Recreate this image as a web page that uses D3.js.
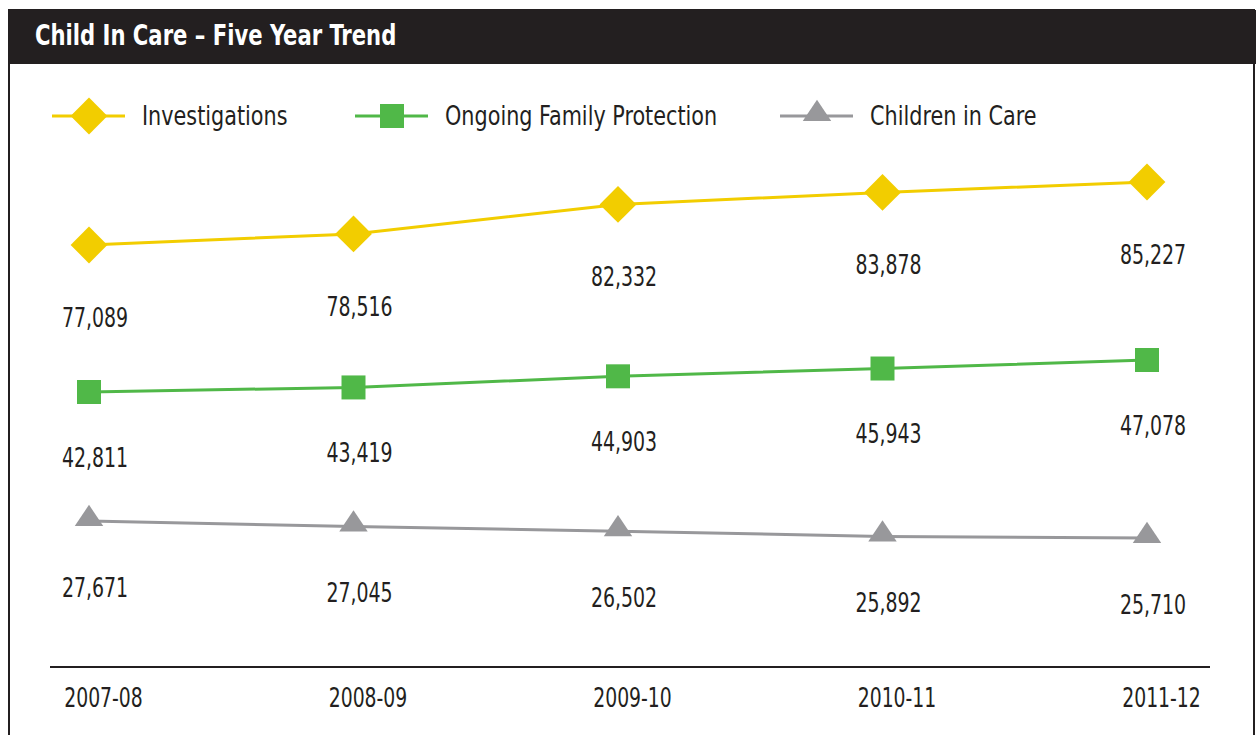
<!DOCTYPE html>
<html><head><meta charset="utf-8">
<script src="https://cdn.jsdelivr.net/npm/d3@7"></script>
<style>
html,body{margin:0;padding:0;background:#fff;}
svg text{font-family:"Liberation Sans Narrow","DejaVu Sans Condensed","Roboto Condensed",Roboto,sans-serif;font-stretch:condensed;fill:#231f20;}
</style></head>
<body><svg id="c" width="1259" height="735"></svg>
<script>
const title = "Child In Care \u2013 Five Year Trend";
const years = ["2007-08","2008-09","2009-10","2010-11","2011-12"];
const seriesNames = ["Investigations","Ongoing Family Protection","Children in Care"];
const investigations = [77089,78516,82332,83878,85227];
const ongoingFamilyProtection = [42811,43419,44903,45943,47078];
const childrenInCare = [27671,27045,26502,25892,25710];

const svg = d3.select("#c");
const ink = "#231f20";
const colors = ["#f2cd00","#50b848","#98989b"];

// frame and title bar
svg.append("rect").attr("x",9).attr("y",10).attr("width",1245).attr("height",740)
  .attr("fill","none").attr("stroke",ink).attr("stroke-width",2);
svg.append("rect").attr("x",8).attr("y",10).attr("width",1248).attr("height",54).attr("fill",ink);
svg.append("text").attr("transform","translate(35,45) scale(0.84,1)").text(title)
  .style("fill","#fff").style("font-weight","bold").style("font-size","28px");

const x = d3.scalePoint().domain(years).range([89,1147]);
// broken vertical axis: each series sits in its own band
const yScales = [
  d3.scaleLinear().domain([77089,85227]).range([245,182]),
  d3.scaleLinear().domain([42811,47078]).range([392,360]),
  d3.scaleLinear().domain([25710,27671]).range([538,521])
];
const labelOffsets = [73,66,67];
const data = [investigations, ongoingFamilyProtection, childrenInCare];
const sizes = [
  d3.symbol().type(d3.symbolSquare).size(26*26),
  d3.symbol().type(d3.symbolSquare).size(24*24),
  d3.symbol().type(d3.symbolTriangle).size(290)
];
const markerTf = [" rotate(45)", "", " scale(1.1,0.95)"];
const markerDy = [0, 0, -2];

data.forEach((vals, i) => {
  const pts = vals.map((v,j)=>({year:years[j], v}));
  const y = yScales[i];
  const g = svg.append("g");
  g.append("path").datum(pts)
    .attr("d", d3.line().x(d=>x(d.year)).y(d=>y(d.v)))
    .attr("fill","none").attr("stroke",colors[i]).attr("stroke-width",3);
  g.selectAll("path.m").data(pts).join("path").attr("class","m")
    .attr("d", sizes[i])
    .attr("transform", d=>`translate(${x(d.year)},${y(d.v) + markerDy[i]})${markerTf[i]}`)
    .attr("fill",colors[i]);
  g.selectAll("text").data(pts).join("text")
    .attr("transform", d=>`translate(${x(d.year)+6},${y(d.v)+labelOffsets[i]}) scale(0.78,1)`)
    .attr("text-anchor","middle").attr("dominant-baseline","central")
    .style("font-size","27px")
    .text(d=>d3.format(",")(d.v));
});

// legend
const legendX = [52,355,780];
seriesNames.forEach((name,i)=>{
  const g = svg.append("g").attr("transform",`translate(${legendX[i]},116)`);
  g.append("line").attr("x1",0).attr("x2",73).attr("stroke",colors[i]).attr("stroke-width",3);
  g.append("path").attr("d",sizes[i]).attr("transform",`translate(37,${markerDy[i]})${markerTf[i]}`).attr("fill",colors[i]);
  g.append("text").attr("transform","translate(90,0) scale(0.855,1)")
    .attr("dominant-baseline","central").style("font-size","27px").text(name);
});

// x axis
const axis = d3.axisBottom(x).tickSize(0).tickPadding(0);
const ag = svg.append("g").attr("transform","translate(0,667)").call(axis);
ag.select(".domain").remove();
ag.append("line").attr("x1",50).attr("x2",1210).attr("stroke",ink).attr("stroke-width",2);
ag.selectAll(".tick text").attr("dy",null).attr("y",null)
  .attr("transform","translate(14,31) scale(0.775,1)")
  .attr("dominant-baseline","central").style("font-size","27px").style("fill",ink);
</script></body></html>
